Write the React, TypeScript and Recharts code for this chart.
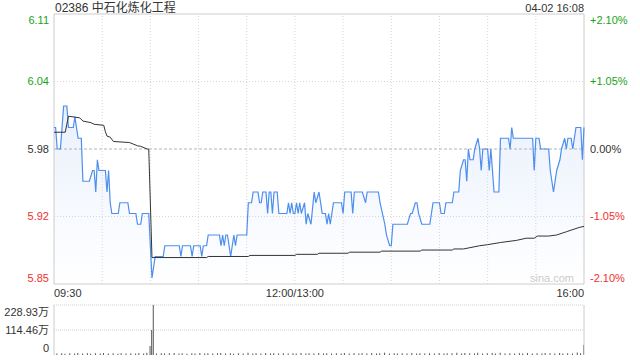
import React from "react";
import {
  ComposedChart,
  Line,
  Area,
  Bar,
  XAxis,
  YAxis,
  ReferenceLine,
  ReferenceArea,
} from "recharts";

const FONT = "Arial, 'Liberation Sans', 'Noto Sans CJK SC', sans-serif";

const stockTitle = "02386 中石化炼化工程";
const stampText = "04-02 16:08";
const prevClose = 5.98;

// left axis ticks are prevClose * (1 +/- 2.10%), shown rounded
const priceTicks = [5.8544, 5.9172, 5.98, 6.0428, 6.1056];
const pctLabels = ["-2.10%", "-1.05%", "0.00%", "+1.05%", "+2.10%"];

// minutes since 09:30, lunch break removed (12:00 == 13:00 == 150)
const timeTicks = [0, 150, 330];
const timeLabels = ["09:30", "12:00/13:00", "16:00"];
const gridMinutes = [30, 60, 90, 120, 150, 180, 210, 240, 270, 300];

const volTicks = [0, 114.46, 228.93];

// [minute, last price]
const pricePoints: [number, number][] = [
  [0, 6.0], [1, 6.0], [2, 5.98], [4, 5.98], [6, 6.02], [8, 6.02], [9, 6.0], [12, 6.0],
  [13, 6.01], [15, 5.99], [17, 5.99], [18, 5.95], [22, 5.95], [24, 5.96], [25, 5.96],
  [26, 5.94], [27, 5.97], [28, 5.96], [32, 5.96], [33, 5.94], [34, 5.96], [35, 5.93],
  [36, 5.92], [40, 5.92], [41, 5.93], [46, 5.93], [47, 5.92], [51, 5.92], [52, 5.91],
  [54, 5.91], [55, 5.92], [59, 5.92], [61, 5.86], [63, 5.88], [68, 5.88], [69, 5.89],
  [78, 5.89], [79, 5.88], [80, 5.89], [85, 5.89], [86, 5.88], [87, 5.89], [91, 5.89],
  [92, 5.88], [93, 5.89], [95, 5.89], [96, 5.9], [103, 5.9], [104, 5.89], [105, 5.9],
  [106, 5.89], [107, 5.9], [108, 5.9], [110, 5.88], [112, 5.9], [113, 5.89], [114, 5.9],
  [120, 5.9], [121, 5.93], [123, 5.93], [124, 5.94], [127, 5.94], [128, 5.93], [129, 5.93],
  [130, 5.94], [132, 5.94], [133, 5.92], [134, 5.94], [135, 5.94], [136, 5.92], [137, 5.94],
  [139, 5.94], [140, 5.92], [145, 5.92], [146, 5.93], [147, 5.92], [148, 5.93], [149, 5.92],
  [150, 5.92], [151, 5.93], [152, 5.92], [153, 5.93], [154, 5.92], [156, 5.93], [157, 5.91],
  [158, 5.92], [160, 5.91], [162, 5.94], [163, 5.93], [165, 5.94], [166, 5.93], [167, 5.92],
  [169, 5.92], [170, 5.91], [171, 5.92], [172, 5.91], [174, 5.93], [179, 5.93], [180, 5.92],
  [181, 5.94], [185, 5.94], [186, 5.92], [187, 5.94], [192, 5.94], [194, 5.93], [195, 5.94],
  [202, 5.94], [203, 5.93], [206, 5.91], [207, 5.9], [209, 5.89], [210, 5.89], [211, 5.91],
  [220, 5.91], [222, 5.92], [223, 5.92], [225, 5.93], [226, 5.93], [227, 5.92], [229, 5.91],
  [234, 5.91], [235, 5.92], [236, 5.93], [240, 5.93], [241, 5.92], [243, 5.92], [244, 5.93],
  [248, 5.93], [249, 5.94], [252, 5.94], [253, 5.96], [255, 5.97], [256, 5.97], [257, 5.95],
  [258, 5.98], [259, 5.97], [261, 5.97], [262, 5.98], [264, 5.99], [265, 5.98], [266, 5.96],
  [267, 5.98], [270, 5.98], [271, 5.96], [272, 5.98], [274, 5.94], [277, 5.94], [278, 5.99],
  [283, 5.99], [284, 5.98], [285, 6.0], [286, 5.99], [298, 5.99], [299, 5.96], [300, 5.99],
  [302, 5.99], [303, 5.98], [308, 5.98], [309, 5.96], [310, 5.95], [311, 5.94], [312, 5.95],
  [313, 5.96], [315, 5.97], [316, 5.98], [318, 5.99], [319, 5.98], [320, 5.99], [322, 5.99],
  [323, 5.98], [324, 5.99], [325, 6.0], [328, 6.0], [329, 5.97], [330, 6.0],
];

// [minute, average price]
const avgPoints: [number, number][] = [
  [0, 5.9956], [7, 5.9956], [9, 6.0105], [16, 6.009], [18, 6.006], [23, 6.0045],
  [25, 6.003], [31, 6.002], [32, 5.996], [33, 5.992], [35, 5.991], [37, 5.987],
  [47, 5.986], [52, 5.983], [54, 5.9825], [58, 5.98], [59, 5.98], [61, 5.879],
  [95, 5.879], [96, 5.88], [121, 5.88], [122, 5.881], [150, 5.881], [151, 5.882],
  [164, 5.882], [165, 5.883], [183, 5.883], [184, 5.884], [203, 5.884], [204, 5.885],
  [228, 5.885], [229, 5.886], [248, 5.886], [249, 5.887], [255, 5.887], [265, 5.89],
  [270, 5.891], [278, 5.893], [288, 5.895], [294, 5.897], [299, 5.897], [301, 5.899],
  [308, 5.899], [313, 5.9], [319, 5.903], [327, 5.907], [330, 5.908],
];

// [minute, volume in 万 shares]
const volPoints: [number, number][] = [
  [0, 9], [2, 7], [5, 8], [7, 6], [10, 8], [13, 7], [15, 9], [18, 7], [21, 8], [23, 6],
  [26, 8], [29, 7], [31, 9], [34, 7], [37, 8], [40, 6], [42, 8], [45, 7], [48, 8], [51, 7],
  [53, 9], [56, 7], [58, 10], [60, 41], [61, 115], [62, 228.93], [64, 7], [67, 8], [69, 7],
  [72, 8], [75, 9], [78, 7], [80, 8], [83, 6], [86, 8], [88, 7], [91, 9], [94, 7], [96, 8],
  [99, 7], [102, 8], [104, 9], [107, 7], [110, 8], [112, 6], [115, 8], [118, 7], [121, 10],
  [124, 7], [126, 8], [129, 7], [132, 9], [135, 7], [137, 8], [140, 7], [143, 8], [146, 7],
  [149, 8], [151, 7], [154, 9], [157, 7], [159, 8], [162, 7], [165, 9], [168, 7], [170, 8],
  [173, 7], [176, 8], [179, 7], [181, 9], [184, 7], [187, 8], [190, 7], [192, 8], [195, 7],
  [198, 9], [201, 7], [203, 8], [206, 10], [209, 7], [212, 8], [214, 7], [217, 8], [220, 7],
  [223, 9], [226, 7], [228, 8], [231, 7], [234, 8], [237, 7], [240, 9], [243, 7], [245, 8],
  [248, 8], [251, 10], [254, 7], [256, 9], [259, 8], [262, 7], [264, 10], [267, 7], [270, 8],
  [273, 9], [275, 7], [278, 10], [281, 7], [284, 8], [287, 7], [290, 8], [292, 7], [295, 9],
  [298, 7], [301, 8], [304, 7], [306, 9], [309, 8], [312, 7], [315, 9], [317, 7], [320, 8],
  [323, 7], [326, 12], [328, 8], [330, 46],
];

const priceData = pricePoints.map(([t, p]) => ({ t, p }));
const avgData = avgPoints.map(([t, a]) => ({ t, a }));
const volData = volPoints.map(([t, v]) => ({ t, v }));

const GREEN = "#19a319";
const RED = "#f03030";
const TEXT = "#333";

function edgeShift(value: number, ticks: number[], amount: number) {
  if (value === ticks[0]) return -amount;
  if (value === ticks[ticks.length - 1]) return amount;
  return 0;
}

function colorFor(i: number) {
  if (i === 2) return TEXT;
  return i > 2 ? GREEN : RED;
}

// eslint-disable-next-line @typescript-eslint/no-explicit-any
function PriceTick({ x, y, payload }: any) {
  const i = priceTicks.indexOf(payload.value);
  return (
    <text
      x={x}
      y={y + edgeShift(payload.value, priceTicks, 6)}
      dy="0.35em"
      textAnchor="end"
      fontSize={11}
      fontFamily={FONT}
      fill={colorFor(i)}
    >
      {payload.value.toFixed(2)}
    </text>
  );
}

// eslint-disable-next-line @typescript-eslint/no-explicit-any
function PctTick({ x, y, payload }: any) {
  const i = priceTicks.indexOf(payload.value);
  return (
    <text
      x={x}
      y={y + edgeShift(payload.value, priceTicks, 6)}
      dy="0.35em"
      textAnchor="start"
      fontSize={11}
      fontFamily={FONT}
      fill={colorFor(i)}
    >
      {pctLabels[i]}
    </text>
  );
}

// eslint-disable-next-line @typescript-eslint/no-explicit-any
function TimeTick({ x, y, payload }: any) {
  const i = timeTicks.indexOf(payload.value);
  const anchor = i === 0 ? "start" : i === timeTicks.length - 1 ? "end" : "middle";
  return (
    <text x={x} y={y} dy="0.35em" textAnchor={anchor} fontSize={11} fontFamily={FONT} fill={TEXT}>
      {timeLabels[i]}
    </text>
  );
}

// eslint-disable-next-line @typescript-eslint/no-explicit-any
function VolTick({ x, y, payload }: any) {
  const v = payload.value;
  return (
    <text
      x={x}
      y={y + edgeShift(v, volTicks, 7)}
      dy="0.35em"
      textAnchor="end"
      fontSize={11}
      fontFamily={FONT}
      fill={TEXT}
    >
      {v === 0 ? "0" : `${v.toFixed(2)}万`}
    </text>
  );
}

export default function App() {
  const yDomain = [priceTicks[0], priceTicks[priceTicks.length - 1]];
  return (
    <div
      style={{
        position: "absolute",
        left: 0,
        top: 0,
        width: 640,
        height: 360,
        background: "#fff",
        fontFamily: FONT,
      }}
    >
      <ComposedChart
        width={640}
        height={300}
        data={priceData}
        margin={{ top: 14, right: 0, bottom: 0, left: 0 }}
      >
        <defs>
          <linearGradient id="priceFill" x1="0" y1="0" x2="0" y2="1">
            <stop offset="0%" stopColor="#d9e6fb" stopOpacity={0.95} />
            <stop offset="100%" stopColor="#ffffff" stopOpacity={0.9} />
          </linearGradient>
        </defs>
        <XAxis
          type="number"
          dataKey="t"
          domain={[0, 330]}
          ticks={timeTicks}
          interval={0}
          axisLine={false}
          tickLine={false}
          tickSize={0}
          tickMargin={9}
          height={16}
          tick={<TimeTick />}
        />
        <YAxis
          domain={yDomain}
          ticks={priceTicks}
          interval={0}
          allowDataOverflow
          axisLine={false}
          tickLine={false}
          tickSize={0}
          tickMargin={5}
          width={54}
          tick={<PriceTick />}
        />
        <YAxis
          yAxisId="right"
          orientation="right"
          domain={yDomain}
          ticks={priceTicks}
          interval={0}
          allowDataOverflow
          axisLine={false}
          tickLine={false}
          tickSize={0}
          tickMargin={6}
          width={56}
          tick={<PctTick />}
        />
        {gridMinutes.map((m) => (
          <ReferenceLine key={m} x={m} stroke="#d6d6d6" strokeDasharray="1 2" />
        ))}
        <ReferenceLine y={priceTicks[1]} stroke="#d6d6d6" strokeDasharray="1 2" />
        <ReferenceLine y={priceTicks[3]} stroke="#d6d6d6" strokeDasharray="1 2" />
        <Area
          yAxisId="right"
          data={priceData}
          dataKey="p"
          type="linear"
          stroke="none"
          fill="url(#priceFill)"
          isAnimationActive={false}
        />
        <ReferenceLine y={prevClose} stroke="#b4b4b4" strokeDasharray="3 2" />
        <Line
          data={priceData}
          dataKey="p"
          type="linear"
          stroke="#4d8eee"
          strokeWidth={1.2}
          dot={false}
          isAnimationActive={false}
        />
        <Line
          data={avgData}
          dataKey="a"
          type="linear"
          stroke="#333"
          strokeWidth={1}
          dot={false}
          isAnimationActive={false}
        />
        <ReferenceArea
          x1={0}
          x2={330}
          y1={yDomain[0]}
          y2={yDomain[1]}
          fill="none"
          stroke="#cccccc"
          ifOverflow="visible"
        />
      </ComposedChart>

      <div style={{ position: "absolute", left: 0, top: 300 }}>
        <ComposedChart
          width={640}
          height={60}
          data={volData}
          margin={{ top: 5, right: 56, bottom: 5, left: 0 }}
        >
          <XAxis type="number" dataKey="t" domain={[0, 330]} hide allowDataOverflow />
          <YAxis
            domain={[0, volTicks[2]]}
            ticks={volTicks}
            interval={0}
            allowDataOverflow
            axisLine={false}
            tickLine={false}
            tickSize={0}
            tickMargin={5}
            width={54}
            tick={<VolTick />}
          />
          <ReferenceLine y={volTicks[2]} stroke="#cfcfcf" strokeDasharray="1 1" />
          <ReferenceLine y={volTicks[1]} stroke="#cfcfcf" strokeDasharray="1 1" />
          <ReferenceLine x={0} stroke="#cccccc" ifOverflow="visible" />
          <ReferenceLine x={330} stroke="#cccccc" ifOverflow="visible" />
          <Bar dataKey="v" fill="#555" barSize={1} isAnimationActive={false} />
        </ComposedChart>
      </div>

      <svg
        width={640}
        height={360}
        style={{ position: "absolute", left: 0, top: 0, pointerEvents: "none" }}
      >
        <text x={55} y={12} fontSize={12} fontFamily={FONT} fill={TEXT}>
          {stockTitle}
        </text>
        <text x={584} y={12} fontSize={11} fontFamily={FONT} fill={TEXT} textAnchor="end">
          {stampText}
        </text>
        <text x={574} y={282} fontSize={11} fontFamily={FONT} fill="#cccccc" textAnchor="end">
          sina.com
        </text>
      </svg>
    </div>
  );
}
